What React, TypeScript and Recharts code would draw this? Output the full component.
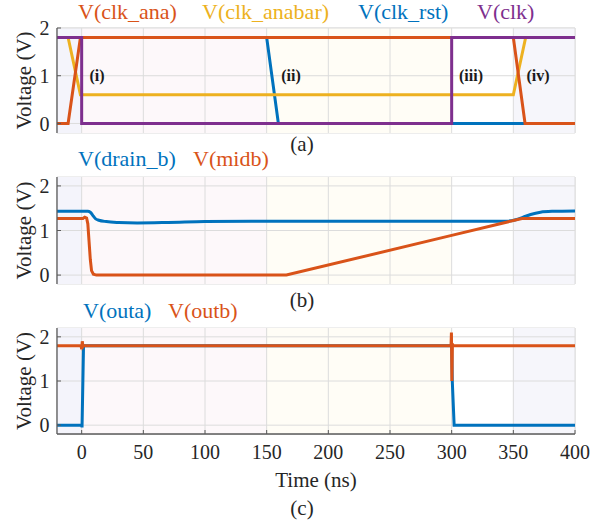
import React from 'react';
import { LineChart, Line, XAxis, YAxis, CartesianGrid, ReferenceArea, ReferenceDot, ReferenceLine } from 'recharts';

// ---------- data ----------
const timeTicks = [0, 50, 100, 150, 200, 250, 300, 350, 400];
const voltTicks = [0, 1, 2];
const regionBounds = [-20, 0, 150, 300, 350, 400];

// panel (a)  [time ns, volts]
const clkAna = [[-20, 0], [-11, 0], [-1, 1.8], [350, 1.8], [359.5, 0], [400, 0]];
const clkAnabar = [[-20, 1.8], [-11, 1.8], [-1, 0.6], [350, 0.6], [360, 1.8], [400, 1.8]];
const clkRst = [[-20, 1.8], [150, 1.8], [159.5, 0], [400, 0]];
const clk = [[-20, 1.8], [0, 1.8], [0, 0], [300, 0], [300, 1.8], [400, 1.8]];
const phaseLabels = ['(i)', '(ii)', '(iii)', '(iv)'];
const phaseTimes = [12.4, 169.7, 315.7, 370];
const phaseVolts = [1, 1, 1, 1];

// panel (b)
const drainB = [[-20, 1.43], [5, 1.43], [7, 1.41], [9, 1.34], [11, 1.27], [14, 1.23], [20, 1.2], [30, 1.18], [45, 1.17], [70, 1.18], [100, 1.2], [150, 1.21], [345, 1.21], [352, 1.24], [358, 1.3], [364, 1.36], [372, 1.41], [382, 1.43], [400, 1.44]];
const midb = [[-20, 1.27], [1, 1.27], [2.5, 1.3], [4, 1.28], [5, 1.15], [6, 0.75], [7, 0.35], [8, 0.1], [9.5, 0.02], [12, 0], [166, 0], [300, 0.89], [357, 1.27], [400, 1.27]];

// panel (c)
const outa = [[-20, 0], [0, 0], [0.3, -0.05], [1.5, 1.8], [300, 1.8], [300.5, 1.0], [302, 0], [400, 0]];
const outb = [[-20, 1.8], [-0.5, 1.8], [0, 1.72], [0.5, 1.9], [1, 1.78], [1.5, 1.8], [299.5, 1.8], [299.8, 2.1], [300.2, 1.0], [300.6, 1.85], [301, 1.8], [400, 1.8]];

const legendA = ['V(clk_ana)', 'V(clk_anabar)', 'V(clk_rst)', 'V(clk)'];
const legendB = ['V(drain_b)', 'V(midb)'];
const legendC = ['V(outa)', 'V(outb)'];

// ---------- style ----------
const BLUE = '#0072BD';
const ORANGE = '#D95319';
const YELLOW = '#EDB120';
const PURPLE = '#7E2F8E';
const AX = '#5a5a5a';
const TXT = '#262626';
const GRID = '#dcdcdc';
const FONT = 'Liberation Serif';
const regionFills = ['#f4f4fb', '#fdf8fa', '#fffdf6', '#ffffff', '#f6f6fb'];

const toPts = (arr: number[][]) => arr.map(([t, v]) => ({ t, v }));

type SeriesDef = { data: number[][]; color: string; type?: 'linear' | 'monotone' };

function Panel(props: {
  top: number; chartH: number; mTop: number; mBottom: number; xH: number; showX: boolean;
  yDomain: [number, number]; series: SeriesDef[]; children?: React.ReactNode;
}) {
  const { top, chartH, mTop, mBottom, xH, showX, yDomain, series, children } = props;
  return (
    <div style={{ position: 'absolute', left: 0, top, width: 608, height: chartH, fontFamily: FONT }}>
      <LineChart width={608} height={chartH} margin={{ top: mTop, right: 33, bottom: mBottom, left: 0 }} style={{ fontFamily: FONT }}>
        <CartesianGrid stroke={GRID} strokeWidth={1} />
        {regionFills.map((f, i) => (
          <ReferenceArea key={'r' + i} x1={regionBounds[i]} x2={regionBounds[i + 1]} fill={f} fillOpacity={1} stroke="none" />
        ))}
        {timeTicks.map((t) => (
          <ReferenceLine key={'gx' + t} x={t} stroke={GRID} strokeWidth={1} />
        ))}
        {voltTicks.map((v) => (
          <ReferenceLine key={'gy' + v} y={v} stroke={GRID} strokeWidth={1} />
        ))}
        <XAxis dataKey="t" type="number" domain={[-20, 400]} ticks={timeTicks} allowDataOverflow interval={0}
          height={xH} tick={showX ? { fontSize: 20, fill: TXT, fontFamily: FONT } : false} tickSize={-4} tickMargin={15}
          axisLine={{ stroke: AX, strokeWidth: 1.3 }} tickLine={{ stroke: AX }} />
        <XAxis xAxisId="t" orientation="top" type="number" domain={[-20, 400]} ticks={timeTicks} allowDataOverflow interval={0}
          height={0} tick={false} tickSize={-4} axisLine={{ stroke: AX, strokeWidth: 1.3 }} tickLine={{ stroke: AX }} />
        <YAxis type="number" domain={yDomain} ticks={voltTicks} allowDataOverflow interval={0} width={57}
          tick={{ fontSize: 20, fill: TXT, fontFamily: FONT }} tickSize={-4} tickMargin={11.5}
          axisLine={{ stroke: AX, strokeWidth: 1.3 }} tickLine={{ stroke: AX }} />
        <YAxis yAxisId="r" orientation="right" type="number" domain={yDomain} ticks={voltTicks} allowDataOverflow interval={0} width={0}
          tick={false} tickSize={-4} axisLine={{ stroke: AX, strokeWidth: 1.3 }} tickLine={{ stroke: AX }} />
        {series.map((s, i) => (
          <Line key={'s' + i} data={toPts(s.data)} dataKey="v" type={s.type ?? 'linear'} stroke={s.color}
            strokeWidth={3} dot={false} activeDot={false} isAnimationActive={false} />
        ))}
        {children}
      </LineChart>
    </div>
  );
}

function LegendRow({ names, colors, xs, y }: { names: string[]; colors: string[]; xs: number[]; y: number }) {
  return (
    <>
      {names.map((n, i) => (
        <text key={n} x={xs[i]} y={y} fill={colors[i]} fontSize={22} fontFamily={FONT}>{n}</text>
      ))}
    </>
  );
}

export default function App() {
  return (
    <div style={{ position: 'absolute', left: 0, top: 0, width: 608, height: 525, background: '#fff', fontFamily: FONT }}>
      <Panel top={0} chartH={140} mTop={28} mBottom={7} xH={0} showX={false} yDomain={[-0.2, 2]}
        series={[
          { data: clkRst, color: BLUE },
          { data: clkAnabar, color: YELLOW },
          { data: clkAna, color: ORANGE },
          { data: clk, color: PURPLE },
        ]}>
        {phaseLabels.map((l, i) => (
          <ReferenceDot key={l} x={phaseTimes[i]} y={phaseVolts[i]} r={0} fill="none" stroke="none"
            label={{ value: l, position: 'center', fontSize: 16, fontWeight: 'bold', fill: '#1a1a1a', fontFamily: FONT }} />
        ))}
      </Panel>
      <Panel top={150} chartH={140} mTop={27} mBottom={6} xH={0} showX={false} yDomain={[-0.2, 2.2]}
        series={[
          { data: drainB, color: BLUE, type: 'monotone' },
          { data: midb, color: ORANGE },
        ]} />
      <Panel top={300} chartH={225} mTop={28} mBottom={51} xH={40} showX={true} yDomain={[-0.2, 2.2]}
        series={[
          { data: outa, color: BLUE },
          { data: outb, color: ORANGE },
        ]} />
      <svg width={608} height={525} style={{ position: 'absolute', left: 0, top: 0, pointerEvents: 'none' }}>
        <LegendRow names={legendA} colors={[ORANGE, YELLOW, BLUE, PURPLE]} xs={[78, 202, 358, 477]} y={18.5} />
        <LegendRow names={legendB} colors={[BLUE, ORANGE]} xs={[78, 193]} y={166} />
        <LegendRow names={legendC} colors={[BLUE, ORANGE]} xs={[83, 168]} y={318} />
        {[80.5, 230.5, 381].map((cy) => (
          <text key={cy} x={31} y={cy} transform={`rotate(-90 31 ${cy})`} textAnchor="middle" fontSize={21} fill={TXT} fontFamily={FONT}>Voltage (V)</text>
        ))}
        <text x={302} y={151} textAnchor="middle" fontSize={21} fill={TXT} fontFamily={FONT}>(a)</text>
        <text x={302} y={307} textAnchor="middle" fontSize={21} fill={TXT} fontFamily={FONT}>(b)</text>
        <text x={316} y={487} textAnchor="middle" fontSize={21} fill={TXT} fontFamily={FONT}>Time (ns)</text>
        <text x={302} y={515} textAnchor="middle" fontSize={21} fill={TXT} fontFamily={FONT}>(c)</text>
      </svg>
    </div>
  );
}
